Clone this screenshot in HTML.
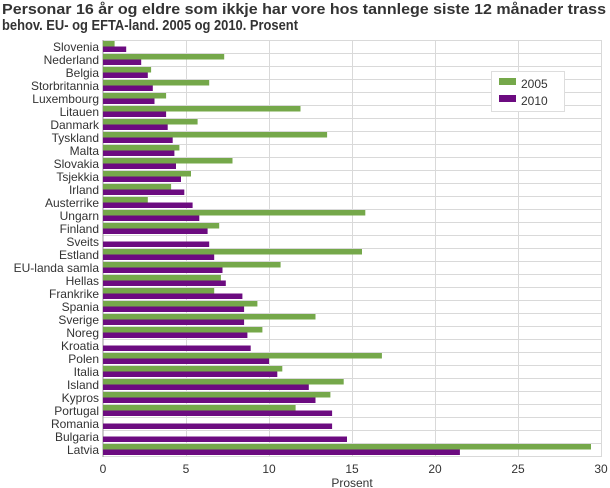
<!DOCTYPE html>
<html><head><meta charset="utf-8"><style>body{margin:0;background:#fff}svg{display:block}</style></head><body>
<svg width="610" height="488" xmlns="http://www.w3.org/2000/svg" font-family="Liberation Sans, DejaVu Sans, sans-serif">
<text x="2" y="14" font-size="15" font-weight="bold" fill="#333" textLength="604" lengthAdjust="spacingAndGlyphs">Personar 16 år og eldre som ikkje har vore hos tannlege siste 12 månader trass</text>
<text x="2" y="30" font-size="15" font-weight="bold" fill="#333" textLength="296" lengthAdjust="spacingAndGlyphs">behov. EU- og EFTA-land. 2005 og 2010. Prosent</text>
<g stroke="#d9d9d9" stroke-width="1">
<line x1="103" y1="40.5" x2="601" y2="40.5"/><line x1="103" y1="53.5" x2="601" y2="53.5"/><line x1="103" y1="66.5" x2="601" y2="66.5"/><line x1="103" y1="79.5" x2="601" y2="79.5"/><line x1="103" y1="92.5" x2="601" y2="92.5"/><line x1="103" y1="105.5" x2="601" y2="105.5"/><line x1="103" y1="118.5" x2="601" y2="118.5"/><line x1="103" y1="131.5" x2="601" y2="131.5"/><line x1="103" y1="144.5" x2="601" y2="144.5"/><line x1="103" y1="157.5" x2="601" y2="157.5"/><line x1="103" y1="170.5" x2="601" y2="170.5"/><line x1="103" y1="183.5" x2="601" y2="183.5"/><line x1="103" y1="196.5" x2="601" y2="196.5"/><line x1="103" y1="209.5" x2="601" y2="209.5"/><line x1="103" y1="222.5" x2="601" y2="222.5"/><line x1="103" y1="235.5" x2="601" y2="235.5"/><line x1="103" y1="248.5" x2="601" y2="248.5"/><line x1="103" y1="261.5" x2="601" y2="261.5"/><line x1="103" y1="274.5" x2="601" y2="274.5"/><line x1="103" y1="287.5" x2="601" y2="287.5"/><line x1="103" y1="300.5" x2="601" y2="300.5"/><line x1="103" y1="313.5" x2="601" y2="313.5"/><line x1="103" y1="326.5" x2="601" y2="326.5"/><line x1="103" y1="339.5" x2="601" y2="339.5"/><line x1="103" y1="352.5" x2="601" y2="352.5"/><line x1="103" y1="365.5" x2="601" y2="365.5"/><line x1="103" y1="378.5" x2="601" y2="378.5"/><line x1="103" y1="391.5" x2="601" y2="391.5"/><line x1="103" y1="404.5" x2="601" y2="404.5"/><line x1="103" y1="417.5" x2="601" y2="417.5"/><line x1="103" y1="430.5" x2="601" y2="430.5"/><line x1="103" y1="443.5" x2="601" y2="443.5"/><line x1="103" y1="456.5" x2="601" y2="456.5"/>
<line x1="186.5" y1="40" x2="186.5" y2="457"/><line x1="269.5" y1="40" x2="269.5" y2="457"/><line x1="352.5" y1="40" x2="352.5" y2="457"/><line x1="435.5" y1="40" x2="435.5" y2="457"/><line x1="518.5" y1="40" x2="518.5" y2="457"/><line x1="601.5" y1="40" x2="601.5" y2="457"/>
</g>
<line x1="103" y1="40" x2="103" y2="457" stroke="#999"/>
<g fill="#75a84a">
<rect x="103" y="41" width="11.6" height="5.5"/><rect x="103" y="54" width="121.2" height="5.5"/><rect x="103" y="67" width="48.1" height="5.5"/><rect x="103" y="80" width="106.2" height="5.5"/><rect x="103" y="93" width="63.1" height="5.5"/><rect x="103" y="106" width="197.5" height="5.5"/><rect x="103" y="119" width="94.6" height="5.5"/><rect x="103" y="132" width="224.1" height="5.5"/><rect x="103" y="145" width="76.4" height="5.5"/><rect x="103" y="158" width="129.5" height="5.5"/><rect x="103" y="171" width="88" height="5.5"/><rect x="103" y="184" width="68.1" height="5.5"/><rect x="103" y="197" width="44.8" height="5.5"/><rect x="103" y="210" width="262.3" height="5.5"/><rect x="103" y="223" width="116.2" height="5.5"/><rect x="103" y="249" width="259" height="5.5"/><rect x="103" y="262" width="177.6" height="5.5"/><rect x="103" y="275" width="117.9" height="5.5"/><rect x="103" y="288" width="111.2" height="5.5"/><rect x="103" y="301" width="154.4" height="5.5"/><rect x="103" y="314" width="212.5" height="5.5"/><rect x="103" y="327" width="159.4" height="5.5"/><rect x="103" y="353" width="278.9" height="5.5"/><rect x="103" y="366" width="179.3" height="5.5"/><rect x="103" y="379" width="240.7" height="5.5"/><rect x="103" y="392" width="227.4" height="5.5"/><rect x="103" y="405" width="192.6" height="5.5"/><rect x="103" y="444" width="488" height="5.5"/>
</g>
<g fill="#6c0b80">
<rect x="103" y="46.5" width="23.2" height="5.5"/><rect x="103" y="59.5" width="38.2" height="5.5"/><rect x="103" y="72.5" width="44.8" height="5.5"/><rect x="103" y="85.5" width="49.8" height="5.5"/><rect x="103" y="98.5" width="51.5" height="5.5"/><rect x="103" y="111.5" width="63.1" height="5.5"/><rect x="103" y="124.5" width="64.7" height="5.5"/><rect x="103" y="137.5" width="69.7" height="5.5"/><rect x="103" y="150.5" width="71.4" height="5.5"/><rect x="103" y="163.5" width="73" height="5.5"/><rect x="103" y="176.5" width="78" height="5.5"/><rect x="103" y="189.5" width="81.3" height="5.5"/><rect x="103" y="202.5" width="89.6" height="5.5"/><rect x="103" y="215.5" width="96.3" height="5.5"/><rect x="103" y="228.5" width="104.6" height="5.5"/><rect x="103" y="241.5" width="106.2" height="5.5"/><rect x="103" y="254.5" width="111.2" height="5.5"/><rect x="103" y="267.5" width="119.5" height="5.5"/><rect x="103" y="280.5" width="122.8" height="5.5"/><rect x="103" y="293.5" width="139.4" height="5.5"/><rect x="103" y="306.5" width="141.1" height="5.5"/><rect x="103" y="319.5" width="141.1" height="5.5"/><rect x="103" y="332.5" width="144.4" height="5.5"/><rect x="103" y="345.5" width="147.7" height="5.5"/><rect x="103" y="358.5" width="166" height="5.5"/><rect x="103" y="371.5" width="174.3" height="5.5"/><rect x="103" y="384.5" width="205.8" height="5.5"/><rect x="103" y="397.5" width="212.5" height="5.5"/><rect x="103" y="410.5" width="229.1" height="5.5"/><rect x="103" y="423.5" width="229.1" height="5.5"/><rect x="103" y="436.5" width="244" height="5.5"/><rect x="103" y="449.5" width="356.9" height="5.5"/>
</g>
<g font-size="12" fill="#333" text-anchor="end">
<text x="99" y="51">Slovenia</text><text x="99" y="64">Nederland</text><text x="99" y="77">Belgia</text><text x="99" y="90">Storbritannia</text><text x="99" y="103">Luxembourg</text><text x="99" y="116">Litauen</text><text x="99" y="129">Danmark</text><text x="99" y="142">Tyskland</text><text x="99" y="155">Malta</text><text x="99" y="168">Slovakia</text><text x="99" y="181">Tsjekkia</text><text x="99" y="194">Irland</text><text x="99" y="207">Austerrike</text><text x="99" y="220">Ungarn</text><text x="99" y="233">Finland</text><text x="99" y="246">Sveits</text><text x="99" y="259">Estland</text><text x="99" y="272">EU-landa samla</text><text x="99" y="285">Hellas</text><text x="99" y="298">Frankrike</text><text x="99" y="311">Spania</text><text x="99" y="324">Sverige</text><text x="99" y="337">Noreg</text><text x="99" y="350">Kroatia</text><text x="99" y="363">Polen</text><text x="99" y="376">Italia</text><text x="99" y="389">Island</text><text x="99" y="402">Kypros</text><text x="99" y="415">Portugal</text><text x="99" y="428">Romania</text><text x="99" y="441">Bulgaria</text><text x="99" y="454">Latvia</text>
</g>
<g font-size="12" fill="#333" text-anchor="middle">
<text x="103" y="473">0</text><text x="186" y="473">5</text><text x="269" y="473">10</text><text x="352" y="473">15</text><text x="435" y="473">20</text><text x="518" y="473">25</text><text x="601" y="473">30</text>
<text x="352" y="487">Prosent</text>
</g>
<rect x="491.5" y="71.5" width="73" height="40" fill="#fff" stroke="#ddd"/>
<rect x="499" y="78" width="17" height="7" fill="#75a84a"/>
<rect x="499" y="95" width="17" height="7" fill="#6c0b80"/>
<text x="521" y="88" font-size="12" fill="#333">2005</text>
<text x="521" y="105" font-size="12" fill="#333">2010</text>
</svg>
</body></html>
